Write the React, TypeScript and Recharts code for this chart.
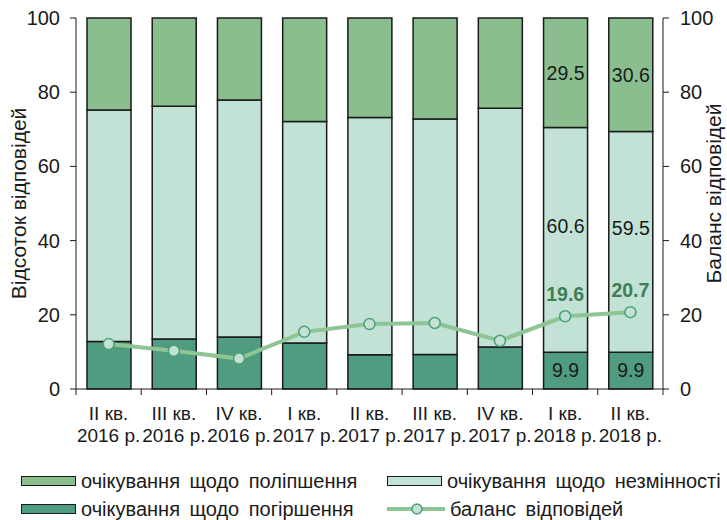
import React from 'react';
import { ComposedChart, Bar, Line, XAxis, YAxis, Legend, LabelList } from 'recharts';

const quarters = ['II кв.', 'III кв.', 'IV кв.', 'I кв.', 'II кв.', 'III кв.', 'IV кв.', 'I кв.', 'II кв.'];
const years = ['2016 р.', '2016 р.', '2016 р.', '2017 р.', '2017 р.', '2017 р.', '2017 р.', '2018 р.', '2018 р.'];
const worsening = [12.8, 13.5, 14.0, 12.4, 9.2, 9.3, 11.3, 9.9, 9.9];
const unchanged = [62.4, 62.7, 63.9, 59.7, 64.0, 63.5, 64.4, 60.6, 59.5];
const improvement = [24.8, 23.8, 22.1, 27.9, 26.8, 27.2, 24.3, 29.5, 30.6];
const balance = [12.1, 10.3, 8.2, 15.4, 17.5, 17.8, 13.0, 19.6, 20.7];
const labelled = [false, false, false, false, false, false, false, true, true];
const yTicks = [0, 20, 40, 60, 80, 100];

const C_UP = '#8ABE8F';
const C_SAME = '#C1E2D5';
const C_DOWN = '#4F9C80';
const C_LINE = '#8DC594';
const C_DOT = '#4E9F7D';
const C_BAL_TEXT = '#3F7D58';
const INK = '#1A1A1A';
const FONT = '"Liberation Sans", Arial, sans-serif';

const data = quarters.map((q, i) => ({
  cat: `${q}\n${years[i]}`,
  down: worsening[i],
  same: unchanged[i],
  up: improvement[i],
  bal: balance[i],
  downLabel: labelled[i] ? worsening[i] : null,
  sameLabel: labelled[i] ? unchanged[i] : null,
  upLabel: labelled[i] ? improvement[i] : null,
  balLabel: labelled[i] ? balance[i] : null,
}));

// centred svg text, optionally rotated around its anchor
const SText = ({ x, y, angle = 0, size = 19, anchor = 'middle', fill = INK, weight = 'normal', children }: any) => (
  <text
    transform={`translate(${x} ${y}) rotate(${angle})`}
    textAnchor={anchor}
    dy="0.35em"
    fontSize={size}
    fontFamily={FONT}
    fontWeight={weight}
    fill={fill}
  >
    {children}
  </text>
);

const XTick = (p: any) => {
  const [q, yr] = String(p.payload.value).split('\n');
  const half = p.payload.offset ?? p.width / p.visibleTicksCount / 2;
  const top = p.y - 6;
  const last = p.index === p.visibleTicksCount - 1;
  return (
    <g>
      <line x1={p.x - half} x2={p.x - half} y1={top} y2={top + 6} stroke={INK} />
      {last && <line x1={p.x + half} x2={p.x + half} y1={top} y2={top + 6} stroke={INK} />}
      <SText x={p.x} y={p.y + 18}>{q}</SText>
      <SText x={p.x} y={p.y + 40}>{yr}</SText>
    </g>
  );
};

const YTick = (anchor: string) => (p: any) => (
  <SText x={p.x} y={p.y} anchor={anchor} size={20}>{p.payload.value}</SText>
);

const barLabel = (dy: number) => (p: any) => {
  if (p.value == null) return null;
  return <SText x={p.x + p.width / 2} y={p.y + p.height / 2 + dy} size={19.5}>{p.value}</SText>;
};

const balLabel = (p: any) => {
  if (p.value == null) return null;
  return <SText x={p.x} y={p.y - 22} size={19.5} weight="bold" fill={C_BAL_TEXT}>{p.value}</SText>;
};

const legendRows = [
  [
    { name: 'очікування щодо поліпшення', color: C_UP, kind: 'box' },
    { name: 'очікування щодо незмінності', color: C_SAME, kind: 'box' },
  ],
  [
    { name: 'очікування щодо погіршення', color: C_DOWN, kind: 'box' },
    { name: 'баланс відповідей', color: C_LINE, kind: 'line' },
  ],
];
const legendCols = [21, 387];

const LegendBox = () => (
  <div style={{ position: 'relative', width: 727, height: 56, fontFamily: FONT, fontSize: 20, color: INK }}>
    {legendRows.map((row, r) =>
      row.map((it, c) => (
        <div
          key={it.name}
          style={{ position: 'absolute', left: legendCols[c], top: r * 28, height: 14, display: 'flex', alignItems: 'center', whiteSpace: 'nowrap' }}
        >
          {it.kind === 'box' ? (
            <div style={{ width: 53, height: 8, background: it.color, border: `1.5px solid ${INK}` }} />
          ) : (
            <svg width={58} height={14}>
              <line x1={0} x2={58} y1={7} y2={7} stroke={it.color} strokeWidth={4} />
              <circle cx={30} cy={7} r={5} fill={C_SAME} stroke={C_DOT} strokeWidth={1.5} />
            </svg>
          )}
          <span style={{ marginLeft: 5, wordSpacing: 4 }}>{it.name}</span>
        </div>
      ))
    )}
  </div>
);

export default function App() {
  return (
    <div style={{ position: 'absolute', left: 0, top: 0, width: 727, height: 520, background: '#fff' }}>
      <ComposedChart width={727} height={520} data={data} margin={{ top: 18, right: 0, bottom: 81, left: 0 }}>
        <XAxis
          dataKey="cat"
          xAxisId="x"
          height={50}
          interval={0}
          tickLine={false}
          tickSize={6}
          tickMargin={0}
          axisLine={{ stroke: INK }}
          tick={<XTick />}
        />
        <YAxis
          yAxisId="left"
          width={76}
          domain={[0, 100]}
          ticks={yTicks}
          tickSize={6}
          tickMargin={10}
          axisLine={{ stroke: INK }}
          tickLine={{ stroke: INK }}
          tick={YTick('end')}
          label={{
            content: (p: any) => (
              <SText x={p.viewBox.x + 19} y={p.viewBox.y + p.viewBox.height / 2} angle={-90} size={21}>
                Відсоток відповідей
              </SText>
            ),
          }}
        />
        <YAxis
          yAxisId="right"
          orientation="right"
          width={64}
          domain={[0, 100]}
          ticks={yTicks}
          tickSize={6}
          tickMargin={11}
          axisLine={{ stroke: INK }}
          tickLine={{ stroke: INK }}
          tick={YTick('start')}
          label={{
            content: (p: any) => (
              <SText x={p.viewBox.x + p.viewBox.width - 13} y={p.viewBox.y + p.viewBox.height / 2 - 10} angle={-90} size={21}>
                Баланс відповідей
              </SText>
            ),
          }}
        />
        <Legend
          layout="vertical"
          align="center"
          verticalAlign="middle"
          wrapperStyle={{ left: 0, top: 474, width: 727 }}
          content={() => <LegendBox />}
        />
        <Bar dataKey="down" stackId="s" xAxisId="x" yAxisId="left" barSize={44} fill={C_DOWN} stroke={INK} strokeWidth={1.5} isAnimationActive={false}>
          <LabelList dataKey="downLabel" content={barLabel(0)} />
        </Bar>
        <Bar dataKey="same" stackId="s" xAxisId="x" yAxisId="left" barSize={44} fill={C_SAME} stroke={INK} strokeWidth={1.5} isAnimationActive={false}>
          <LabelList dataKey="sameLabel" content={barLabel(-14)} />
        </Bar>
        <Bar dataKey="up" stackId="s" xAxisId="x" yAxisId="left" barSize={44} fill={C_UP} stroke={INK} strokeWidth={1.5} isAnimationActive={false}>
          <LabelList dataKey="upLabel" content={barLabel(0)} />
        </Bar>
        <Line
          dataKey="bal"
          xAxisId="x"
          yAxisId="right"
          stroke={C_LINE}
          strokeWidth={4}
          dot={{ r: 5.5, fill: C_SAME, stroke: C_DOT, strokeWidth: 1.5 }}
          isAnimationActive={false}
        >
          <LabelList dataKey="balLabel" content={balLabel} />
        </Line>
      </ComposedChart>
    </div>
  );
}
